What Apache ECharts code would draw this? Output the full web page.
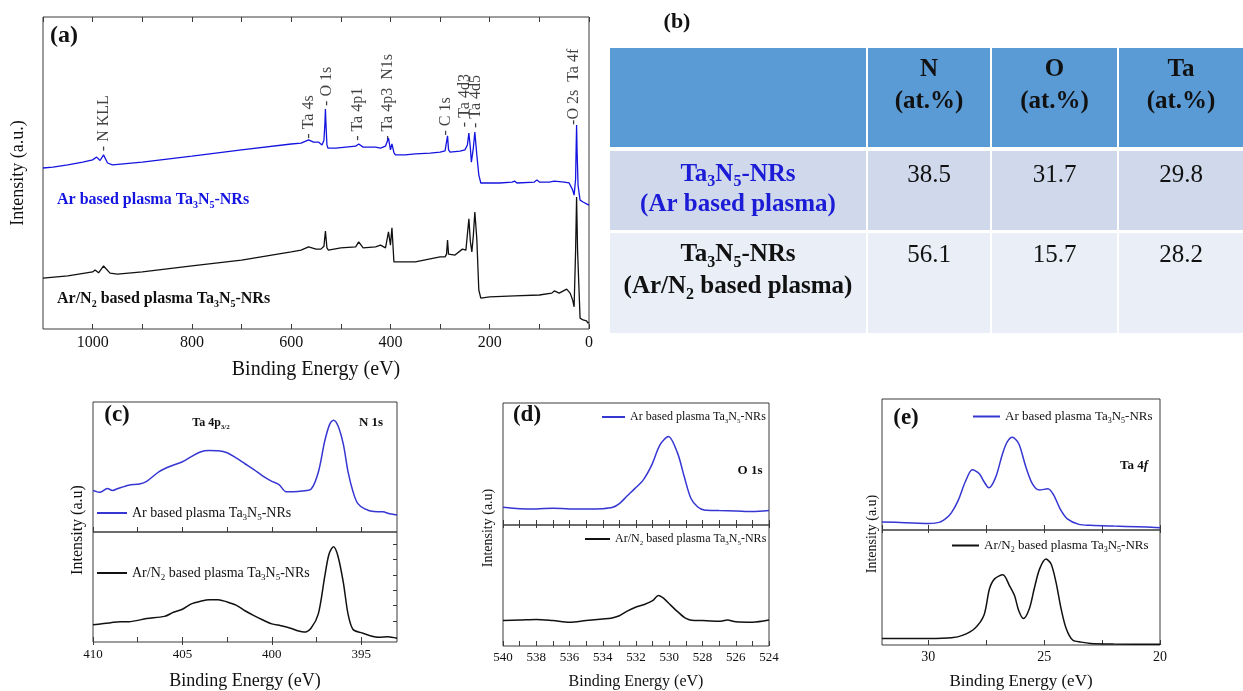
<!DOCTYPE html>
<html>
<head>
<meta charset="utf-8">
<script src="https://cdn.jsdelivr.net/npm/echarts@6/dist/echarts.min.js"></script>
<style>html,body{margin:0;padding:0;background:#fff}#c{width:1243px;height:691px}</style>
</head>
<body>
<div id="c"></div>
<script>
// ---------------- DATA ----------------
// (a) survey spectra (binding energy eV, relative intensity)
const surveyArEnergy = [1100,1080,1050,1020,1000,992,985,978,970,960,900,800,700,600,580,565,555,545,538,534,532,531,530,528,526,510,490,470,464,455,430,420,410,404,400,397,393,390,370,350,320,300,290,287,285,283,280,260,250,245,242,239,237,233,230,226,222,218,210,180,155,150,145,110,105,100,80,70,50,40,33,30,27,26,25,24,22,18,12,5,0];
const surveyArIntensity = [51.6,51.9,52.6,53.5,54.2,55.1,54.0,55.8,53.2,52.6,53.5,55.4,57.4,59.3,59.6,60.6,59.9,59.9,59.0,60.5,66,70.5,66,59,58.0,58.0,58.3,58.6,59.3,58.3,58.3,58.0,58.6,61.2,57.4,59.3,56.5,55.8,55.8,56.1,56.4,56.7,57.1,57.5,61.9,57.5,56.7,57.0,57.4,59.0,62.8,58,53.5,58,63.1,55.8,49.4,46.8,46.8,46.8,47.1,47.4,46.8,47.1,47.8,47.1,47.1,47.4,47.1,46.8,44.6,42.9,48,57,65.4,57,46,41.3,40.7,40.1,39.7];
const surveyN2Energy = [1100,1050,1000,995,988,978,965,950,900,800,700,600,580,565,550,540,534,531,528,525,500,470,464,455,430,420,410,404,400,397,393,390,350,300,290,287,285,283,280,270,255,248,242,239,236,233,230,226,222,218,200,150,100,75,70,60,45,38,33,30,27,25,23,18,12,5,2,0];
const surveyN2Intensity = [16.3,17.0,18.3,18.9,18.0,20.2,17.9,17.6,18.3,20.2,22.1,24.7,25.3,26.3,25.6,25.6,26.5,31.4,26.0,25.3,26.0,26.3,27.9,26.0,26.3,26.9,26.0,31.1,26.9,32.4,21.5,21.2,21.5,23.1,23.1,24,28.5,24,23.4,23.7,25.6,25.3,35.3,28,24.7,30,37.5,28.8,12.5,9.9,10.3,10.6,10.9,11.5,12.2,11.5,12.8,11.5,9.3,7.1,25,42.3,25,3.5,2.9,2.6,1.9,2.2];
const peakNames = ['- N KLL','- Ta 4s','- O 1s','- Ta 4p1','- Ta 4p3  N1s','- C 1s','- Ta 4d3','- Ta 4d5','-O 2s  Ta 4f'];
const peakEnergy = [978,564,529,465,406,289,250,228,30];
const peakLevel = [57,61,71.5,60.3,60.3,62,64.7,64.4,65.4];

// (b) composition table
const tableColumns = ['N','O','Ta'];
const tableUnit = '(at.%)';
const tableRowLabels = ['Ta_3N_5-NRs\n(Ar based plasma)','Ta_3N_5-NRs\n(Ar/N_2 based plasma)'];
const tableValues = [[38.5,31.7,29.8],[56.1,15.7,28.2]];

// (c) Ta 4p3/2 + N 1s
const ta4pArEnergy = [410,409.6,409.2,408.9,408.6,408,407.4,407,406.3,405.6,405,404.5,404,403.5,403,402.5,402,401.5,401,400.5,400,399.6,399.2,398.8,398.3,397.8,397.4,397.04,396.76,396.55,396.3,396.0,395.74,395.46,395.2,394.8,394.3,393.8,393.4,393];
const ta4pArIntensity = [32,30.5,33.4,32,33.5,36,37,39,46.5,51,54,58,61.6,62.7,62.5,61,57,52.5,48,43,39,36.5,31,31,31.5,33,46,70,83,86,81.7,67.4,46.5,31,22,17.8,15.7,15.5,14,13];
const ta4pN2Energy = [410,409.5,409,408.5,408,407,406,405.5,405,404.5,404,403.5,403,402.5,402,401.5,401,400.5,400,399.5,399,398.5,398.2,397.8,397.4,397.04,396.8,396.55,396.3,396.0,395.74,395.46,395,394.5,394,393.5,393];
const ta4pN2Intensity = [15.6,16.5,17.6,18.5,18.5,21.3,23.3,27,29.8,34.7,37,38.4,38.4,36.4,33.5,28.4,24,20,16.5,14.8,12.8,10,9,12.8,25.6,59.7,80,86.6,78,54,25.6,11.4,8.5,5.7,4.3,4.8,3.4];
const ta4pTicks = [395,397.5,400,402.5,405,407.5,410];
const ta4pLabels = [395,400,405,410];
const ta4pN2IntensityTicks = [19,33.5,47.5,61,75.5,89];

// (d) O 1s
const o1sArEnergy = [540,539,538,537,536,535,534,533.4,532.98,532.57,532.06,531.56,531.05,530.55,530.05,529.5,529.1,528.7,528.3,527.9,527,526,525,524];
const o1sArIntensity = [14.5,13.4,13.2,13.7,13.2,13.2,13.4,14.5,17.8,23.3,30,37,49.3,65.8,72.6,58.9,39.7,21.9,15,12.3,11.8,11.5,11,11.8];
const o1sN2Energy = [540,539,538,537,536,535,534,533.5,533,532.5,532,531.5,531,530.65,530.3,530,529.5,529,528.5,528,527,526.5,526,525,524];
const o1sN2Intensity = [21,21.4,22,21,19.6,21,22.3,23,25,29,32.2,34.3,37.5,41.8,39,34.9,28.4,22.8,21,21,20.4,21.4,20,19.6,21.4];

// (e) Ta 4f
const ta4fArEnergy = [32,31,30,29.5,29.2,29,28.7,28.4,28.1,27.8,27.6,27.39,27.1,26.8,26.6,26.38,26.1,25.8,25.5,25.2,24.84,24.6,24.3,24.0,23.5,23,22,21,20];
const ta4fArIntensity = [6.1,5.6,5,6,9.4,13.2,23,37,46,43,37,32.2,40,58,67,70.8,66,48.7,35,30.5,31.5,27,15.7,8.5,4.3,3.6,3,2.5,1.8];
const ta4fN2Energy = [32,30,29,28.5,28,27.6,27.36,27.14,26.78,26.5,26.28,26.1,25.9,25.64,25.43,25.2,24.92,24.7,24.49,24.27,24.05,23.77,23.4,23,22,20];
const ta4fN2Intensity = [5.7,5.7,6.3,8.6,14.4,25.9,48.9,57.5,61,51.7,43,30,23,31.6,48.9,66,74.7,70.4,54.6,31.6,14.4,4.3,2.5,1.4,0.9,0.6];

const legendTexts = {
  c_ar: 'Ar based plasma Ta_3N_5-NRs', c_n2: 'Ar/N_2 based plasma Ta_3N_5-NRs',
  d_ar: 'Ar based plasma Ta_3N_5-NRs', d_n2: 'Ar/N_2 based plasma Ta_3N_5-NRs',
  e_ar: 'Ar based plasma Ta_3N_5-NRs', e_n2: 'Ar/N_2 based plasma Ta_3N_5-NRs'
};

// ---------------- STYLE / HELPERS ----------------
const SERIF = '"Liberation Serif","Times New Roman",Times,serif';
const BLUE_A = '#1414e0', BLUE = '#3636d2', BLACK = '#111111', FRAME = '#3a3a3a';
const zip = (a, b) => a.map((x, i) => [x, b[i]]);

function rich(str) {
  let out = '', buf = '';
  const flush = () => { if (buf) { out += '{m|' + buf + '}'; buf = ''; } };
  for (let i = 0; i < str.length; i++) {
    const c = str[i];
    if (c === '_') {
      flush(); let t;
      if (str[i + 1] === '{') { const j = str.indexOf('}', i); t = str.slice(i + 2, j); i = j; }
      else { t = str[i + 1]; i++; }
      out += '{s|' + t + '}';
    } else if (c === '*') {
      flush(); const j = str.indexOf('*', i + 1); out += '{i|' + str.slice(i + 1, j) + '}'; i = j;
    } else if (c === '\n') { flush(); out += '\n'; }
    else buf += c;
  }
  flush();
  return out;
}
function richStyles(size, weight, color, lh) {
  const sub = Math.round(size * 0.62);
  lh = lh || Math.round(size * 1.3);
  const m = {fontSize: size, fontWeight: weight, fontFamily: SERIF, color: color, fill: color, lineHeight: lh};
  return {
    m: m,
    i: Object.assign({}, m, {fontStyle: 'italic'}),
    s: {fontSize: sub, fontWeight: weight, fontFamily: SERIF, color: color, fill: color, lineHeight: sub, verticalAlign: 'bottom'}
  };
}
function txt(x, y, s, size, weight, color, o) {
  o = o || {};
  return {
    type: 'text', x: x, y: y, rotation: o.rot || 0, silent: true, z: 20,
    style: {
      text: rich(s), rich: richStyles(size, weight, color, o.lh),
      align: o.align || 'center', verticalAlign: o.va || 'middle',
      fill: color, fontSize: size, fontFamily: SERIF, fontWeight: weight
    }
  };
}
function line(name, xi, yi, E, V, color, width, smooth) {
  return {
    type: 'line', name: name, xAxisIndex: xi, yAxisIndex: yi, data: zip(E, V),
    symbol: 'none', smooth: smooth, silent: true,
    lineStyle: {color: color, width: width}, itemStyle: {color: color},
    emphasis: {disabled: true}
  };
}
function legendFor(name, left, top, w, size) {
  return {
    data: [name], left: left, top: top, itemWidth: w, itemHeight: 2, padding: 0, icon: 'rect',
    selectedMode: false, formatter: n => rich(legendTexts[n]),
    textStyle: {rich: richStyles(size, 'normal', BLACK)}
  };
}
const noLine = {show: false};
const tick = (len, custom) => {
  const t = {inside: true, length: len, lineStyle: {color: FRAME, width: 1}};
  if (custom) t.customValues = custom;
  return t;
};
const labelStyle = (size, margin, extra) => Object.assign({fontSize: size, color: BLACK, fontFamily: SERIF, margin: margin}, extra || {});
const nameStyle = size => ({fontSize: size, color: BLACK, fontFamily: SERIF});

// ---------------- LAYOUT ----------------
const gridBox = (l, t, w, h) => ({left: l, top: t, width: w, height: h, show: true, borderColor: FRAME, borderWidth: 1, backgroundColor: 'transparent'});
const grids = [
  gridBox(43, 17, 546, 312),   // a
  gridBox(93, 402, 304, 130),  // c upper
  gridBox(93, 532, 304, 115),  // c lower
  gridBox(503, 403, 266, 122), // d upper
  gridBox(503, 525, 266, 124), // d lower
  gridBox(882, 399, 278, 131), // e upper
  gridBox(882, 530, 278, 117)  // e lower
];

const xAxes = [
  // 0,1 : panel a
  {gridIndex: 0, type: 'value', min: 0, max: 1100, interval: 100, inverse: true, position: 'bottom',
   axisLine: noLine, axisTick: tick(5), splitLine: noLine,
   axisLabel: labelStyle(16, 6, {showMaxLabel: false, formatter: v => (v % 200 === 0 ? String(v) : '')}),
   name: 'Binding Energy (eV)', nameLocation: 'middle', nameGap: 31, nameTextStyle: nameStyle(20)},
  {gridIndex: 0, type: 'value', min: 0, max: 1100, interval: 100, inverse: true, position: 'top',
   axisLine: noLine, axisTick: tick(5), axisLabel: {show: false}, splitLine: noLine},
  // 2,3,4 : panel c
  {gridIndex: 1, type: 'value', min: 393, max: 410, inverse: true, position: 'bottom',
   axisLine: noLine, axisTick: tick(5, ta4pTicks), axisLabel: {show: false, customValues: ta4pLabels}, splitLine: noLine},
  {gridIndex: 2, type: 'value', min: 393, max: 410, inverse: true, position: 'bottom',
   axisLine: noLine, axisTick: tick(5, ta4pTicks), splitLine: noLine,
   axisLabel: labelStyle(13, 6, {customValues: ta4pLabels}),
   name: 'Binding Energy (eV)', nameLocation: 'middle', nameGap: 30, nameTextStyle: nameStyle(18)},
  {gridIndex: 2, type: 'value', min: 393, max: 410, inverse: true, position: 'top',
   axisLine: noLine, axisTick: tick(3, ta4pLabels), axisLabel: {show: false, customValues: ta4pLabels}, splitLine: noLine},
  // 5,6,7 : panel d
  {gridIndex: 3, type: 'value', min: 524, max: 540, interval: 1, inverse: true, position: 'bottom',
   axisLine: noLine, axisTick: tick(5), axisLabel: {show: false}, splitLine: noLine},
  {gridIndex: 4, type: 'value', min: 524, max: 540, interval: 1, inverse: true, position: 'bottom',
   axisLine: noLine, axisTick: tick(5), splitLine: noLine,
   axisLabel: labelStyle(13, 5, {formatter: v => (v % 2 === 0 ? String(v) : '')}),
   name: 'Binding Energy (eV)', nameLocation: 'middle', nameGap: 28, nameTextStyle: nameStyle(16)},
  {gridIndex: 4, type: 'value', min: 524, max: 540, interval: 1, inverse: true, position: 'top',
   axisLine: noLine, axisTick: tick(3), axisLabel: {show: false}, splitLine: noLine},
  // 8,9,10 : panel e
  {gridIndex: 5, type: 'value', min: 20, max: 32, interval: 2.5, inverse: true, position: 'bottom',
   axisLine: noLine, axisTick: tick(5), axisLabel: {show: false}, splitLine: noLine},
  {gridIndex: 6, type: 'value', min: 20, max: 32, interval: 2.5, inverse: true, position: 'bottom',
   axisLine: noLine, axisTick: tick(5), splitLine: noLine,
   axisLabel: labelStyle(14, 5, {showMaxLabel: false, formatter: v => (v % 5 === 0 ? String(v) : '')}),
   name: 'Binding Energy (eV)', nameLocation: 'middle', nameGap: 28, nameTextStyle: nameStyle(17)},
  {gridIndex: 6, type: 'value', min: 20, max: 32, interval: 2.5, inverse: true, position: 'top',
   axisLine: noLine, axisTick: tick(3), axisLabel: {show: false}, splitLine: noLine}
];
const yAxes = grids.map((g, i) => ({gridIndex: i, type: 'value', min: 0, max: 100, show: false}));
// right-hand ticks of the lower (c) plot
yAxes.push({gridIndex: 2, type: 'value', min: 0, max: 100, position: 'right', show: true,
  axisLine: noLine, axisLabel: {show: false, customValues: ta4pN2IntensityTicks},
  axisTick: tick(4, ta4pN2IntensityTicks), splitLine: noLine});

const series = [
  line('survey_ar', 0, 0, surveyArEnergy, surveyArIntensity, BLUE_A, 1.3, false),
  line('survey_n2', 0, 0, surveyN2Energy, surveyN2Intensity, BLACK, 1.3, false),
  {
    type: 'scatter', xAxisIndex: 0, yAxisIndex: 0, symbolSize: 1, silent: true,
    itemStyle: {color: 'transparent'}, emphasis: {disabled: true},
    data: peakEnergy.map((e, i) => ({value: [e, peakLevel[i]], name: peakNames[i]})),
    label: {show: true, position: 'inside', rotate: 90, align: 'left', verticalAlign: 'middle',
            formatter: p => p.name, fontSize: 16, fontFamily: SERIF, color: BLACK}
  },
  line('c_ar', 2, 1, ta4pArEnergy, ta4pArIntensity, BLUE, 1.5, 0.3),
  line('c_n2', 3, 2, ta4pN2Energy, ta4pN2Intensity, BLACK, 1.5, 0.3),
  line('d_ar', 5, 3, o1sArEnergy, o1sArIntensity, BLUE, 1.5, 0.3),
  line('d_n2', 6, 4, o1sN2Energy, o1sN2Intensity, BLACK, 1.5, 0.3),
  line('e_ar', 8, 5, ta4fArEnergy, ta4fArIntensity, BLUE, 1.5, 0.3),
  line('e_n2', 9, 6, ta4fN2Energy, ta4fN2Intensity, BLACK, 1.5, 0.3)
];

const legends = [
  legendFor('c_ar', 97, 506, 30, 14),
  legendFor('c_n2', 97, 566, 30, 14),
  legendFor('d_ar', 602, 411, 23, 12),
  legendFor('d_n2', 585, 533, 25, 12),
  legendFor('e_ar', 973, 410, 27, 13),
  legendFor('e_n2', 952, 539, 27, 13)
];

// ---------------- TABLE (panel b) ----------------
const tableColEdges = [[610, 866], [868, 990], [992, 1117], [1119, 1243]];
const tableRowEdges = [[48, 147], [151, 230], [233, 333]];
const tableFills = ['#5b9bd5', '#cfd9eb', '#e9eef7'];
const rowLabelColors = ['#1c1cd6', BLACK];
const tableEls = [];
tableRowEdges.forEach((r, ri) => {
  tableColEdges.forEach(c => {
    tableEls.push({type: 'rect', silent: true, z: 5,
      shape: {x: c[0], y: r[0], width: c[1] - c[0], height: r[1] - r[0]},
      style: {fill: tableFills[ri]}});
  });
});
const colCenter = i => (tableColEdges[i][0] + tableColEdges[i][1]) / 2;
tableColumns.forEach((h, i) => {
  tableEls.push(txt(colCenter(i + 1), 86, h + '\n' + tableUnit, 25, 'bold', BLACK, {lh: 32}));
});
const rowLabelY = [190, 271], rowLabelLH = [30, 32], rowValueY = [175, 255];
tableRowLabels.forEach((lbl, ri) => {
  tableEls.push(txt(colCenter(0), rowLabelY[ri], lbl, 25, 'bold', rowLabelColors[ri], {lh: rowLabelLH[ri]}));
  tableValues[ri].forEach((v, ci) => {
    tableEls.push(txt(colCenter(ci + 1), rowValueY[ri], v.toFixed(1), 25, 'normal', BLACK));
  });
});

// ---------------- TEXT ANNOTATIONS ----------------
const texts = [
  txt(64, 36, '(a)', 24, 'bold', BLACK),
  txt(18, 173, 'Intensity (a.u.)', 18, 'normal', BLACK, {rot: Math.PI / 2}),
  txt(57, 200, 'Ar based plasma Ta_3N_5-NRs', 16, 'bold', BLUE_A, {align: 'left'}),
  txt(57, 299, 'Ar/N_2 based plasma Ta_3N_5-NRs', 16, 'bold', BLACK, {align: 'left'}),
  txt(677, 22, '(b)', 22, 'bold', BLACK),
  txt(117, 415, '(c)', 23, 'bold', BLACK),
  txt(211, 423, 'Ta 4p_{3/2}', 12, 'bold', BLACK),
  txt(371, 423, 'N 1s', 13, 'bold', BLACK),
  txt(78, 530, 'Intensity (a.u)', 16, 'normal', BLACK, {rot: Math.PI / 2}),
  txt(527, 415, '(d)', 23, 'bold', BLACK),
  txt(750, 471, 'O 1s', 13, 'bold', BLACK),
  txt(488, 528, 'Intensity (a.u)', 14, 'normal', BLACK, {rot: Math.PI / 2}),
  txt(906, 418, '(e)', 23, 'bold', BLACK),
  txt(1134, 466, 'Ta 4*f*', 13, 'bold', BLACK),
  txt(872, 534, 'Intensity (a.u)', 14, 'normal', BLACK, {rot: Math.PI / 2})
];

const chart = echarts.init(document.getElementById('c'), null, {renderer: 'canvas'});
chart.setOption({
  animation: false,
  backgroundColor: '#ffffff',
  textStyle: {fontFamily: SERIF},
  grid: grids,
  xAxis: xAxes,
  yAxis: yAxes,
  legend: legends,
  series: series,
  graphic: {elements: tableEls.concat(texts)}
});
</script>
</body>
</html>
